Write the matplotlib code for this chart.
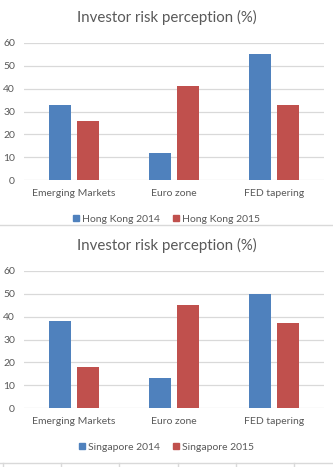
import numpy as np
import matplotlib
matplotlib.use("Agg")
import matplotlib.pyplot as plt
from matplotlib.lines import Line2D

plt.rcParams['font.family'] = ['Lato', 'DejaVu Sans']

categories = ["Emerging Markets", "Euro zone", "FED tapering"]
hk_2014 = [33, 12, 55]
hk_2015 = [26, 41, 33]
sg_2014 = [38, 13, 50]
sg_2015 = [18, 45, 37]
yticks = [0, 10, 20, 30, 40, 50, 60]
title = "Investor risk perception (%)"

BLUE = "#4F81BD"
RED = "#C0504D"
GRID = "#D9D9D9"
TEXT = "#595959"

W, H = 333, 467
fig = plt.figure(figsize=(W / 100, H / 100), dpi=100)


def px(x0, y0, x1, y1):
    # pixel box (top-left origin) -> figure rect
    return [x0 / W, 1 - y1 / H, (x1 - x0) / W, (y1 - y0) / H]


def panel(top, s14, s15, name14, name15):
    ax = fig.add_axes(px(24, top + 42.7, 324, top + 180.3))
    x = np.arange(len(categories))
    bw = 0.22
    ax.bar(x - 0.14, s14, bw, color=BLUE, zorder=3)
    ax.bar(x + 0.14, s15, bw, color=RED, zorder=3)
    ax.set_xlim(-0.5, len(categories) - 0.5)
    ax.set_ylim(0, 60)
    ax.set_yticks(yticks)
    ax.yaxis.grid(True, color=GRID, lw=0.9, zorder=0)
    ax.set_axisbelow(True)
    for s in ax.spines.values():
        s.set_visible(False)
    ax.tick_params(length=0, labelsize=7.5, colors=TEXT)
    ax.tick_params(axis='y', pad=6.5)
    ax.tick_params(axis='x', pad=6)
    ax.set_xticks(x)
    ax.set_xticklabels(categories)
    fig.text(0.5, 1 - (top + 17) / H, title, ha='center', va='center',
             fontsize=10.8, color=TEXT)
    handles = [Line2D([], [], ls='none', marker='s', ms=4.2, color=BLUE),
               Line2D([], [], ls='none', marker='s', ms=4.2, color=RED)]
    fig.legend(handles, [name14, name15], loc='center',
               bbox_to_anchor=(0.5, 1 - (top + 219) / H), ncol=2,
               frameon=False, fontsize=7.5, labelcolor=TEXT,
               handlelength=0.6, handletextpad=0.3, columnspacing=1.2)
    return ax


panel(0, hk_2014, hk_2015, "Hong Kong 2014", "Hong Kong 2015")
panel(228, sg_2014, sg_2015, "Singapore 2014", "Singapore 2015")

# separator between the two charts and cell borders at the foot
fig.add_artist(Line2D([0, 1], [1 - 225 / H] * 2, color=GRID, lw=1))
fig.add_artist(Line2D([0, 1], [1 - 463 / H] * 2, color=GRID, lw=1))
for xp in [3, 61, 119, 178, 236, 294]:
    fig.add_artist(Line2D([xp / W] * 2, [1 - 463 / H, 0], color=GRID, lw=1))

fig.savefig("out.png", dpi=100)
